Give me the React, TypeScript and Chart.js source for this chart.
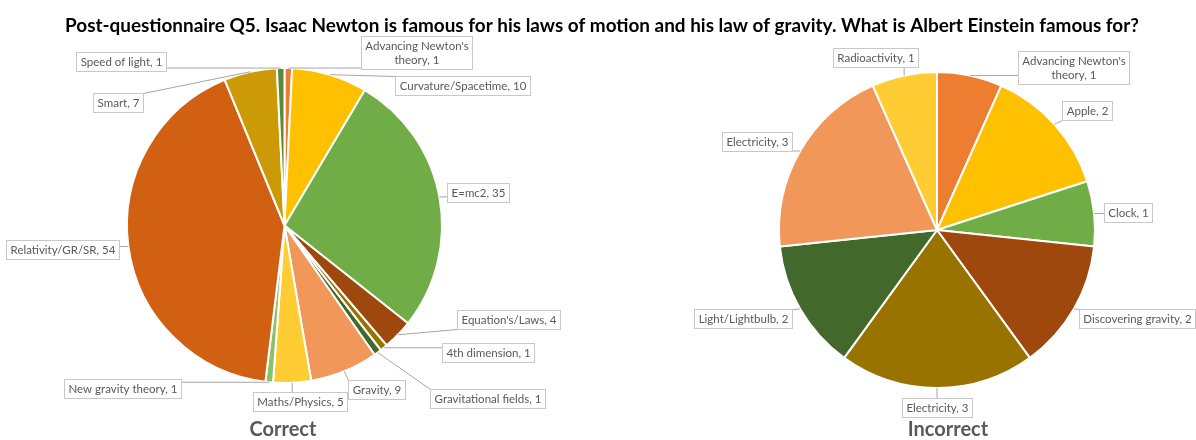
import React, { useEffect, useRef } from "react";
import { Chart, registerables } from "chart.js";

Chart.register(...registerables);

const TITLE =
  "Post-questionnaire Q5. Isaac Newton is famous for his laws of motion and his law of gravity. What is Albert Einstein famous for?";

const correctCategories = [
  "Advancing Newton's theory",
  "Curvature/Spacetime",
  "E=mc2",
  "Equation's/Laws",
  "4th dimension",
  "Gravitational fields",
  "Gravity",
  "Maths/Physics",
  "New gravity theory",
  "Relativity/GR/SR",
  "Smart",
  "Speed of light",
];
const correctValues = [1, 10, 35, 4, 1, 1, 9, 5, 1, 54, 7, 1];

const incorrectCategories = [
  "Advancing Newton's theory",
  "Apple",
  "Clock",
  "Discovering gravity",
  "Electricity",
  "Light/Lightbulb",
  "Electricity",
  "Radioactivity",
];
const incorrectValues = [1, 2, 1, 2, 3, 2, 3, 1];

const PALETTE = [
  "#ED7D31",
  "#FFC000",
  "#70AD47",
  "#9E480E",
  "#997300",
  "#43682B",
  "#F1975A",
  "#FFCD33",
  "#8CC168",
  "#D26012",
  "#CC9A06",
  "#5A8A39",
];

const FONT = "Lato, 'Open Sans', sans-serif";

// label box centre offsets from the pie centre (layout only)
const correctLabelOffsets = [
  [132, -173],
  [177.5, -140],
  [193.5, -33.5],
  [224, 94],
  [203, 126.5],
  [202.5, 173],
  [92, 164],
  [15, 175.5],
  [-162, 163],
  [-222, 23.5],
  [-167, -123.5],
  [-163.5, -164],
];
const incorrectLabelOffsets = [
  [136.5, -163],
  [149.5, -120],
  [190.5, -18],
  [200, 88.5],
  [0, 177],
  [-194.5, 88.5],
  [-180, -88.5],
  [-62, -173],
];

function splitTwo(text: string): string[] {
  const parts = text.split(" ");
  if (parts.length < 3) return [text];
  return [parts.slice(0, parts.length - 2).join(" "), parts.slice(parts.length - 2).join(" ")];
}

const calloutPlugin = {
  id: "callouts",
  afterDatasetsDraw(chart: any, _args: any, opts: any) {
    const ctx = chart.ctx as CanvasRenderingContext2D;
    const meta = chart.getDatasetMeta(0);
    const labels = chart.data.labels as string[];
    const values = chart.data.datasets[0].data as number[];
    ctx.save();
    const fs = opts.fontSize || 12;
    ctx.font = `${fs}px ${FONT}`;
    const lineH = opts.lineHeight || 14;
    const padX = opts.padX || 4;
    const padY = opts.padY || 2.5;
    meta.data.forEach((arc: any, i: number) => {
      const p = arc.getProps(["x", "y", "startAngle", "endAngle", "outerRadius"], true);
      const mid = (p.startAngle + p.endAngle) / 2;
      const ax = p.x + Math.cos(mid) * p.outerRadius;
      const ay = p.y + Math.sin(mid) * p.outerRadius;
      const text = `${labels[i]}, ${values[i]}`;
      const lines = (opts.wrap || []).includes(i) ? splitTwo(text) : [text];
      const tw = Math.max(...lines.map((l: string) => ctx.measureText(l).width));
      const w = Math.round(tw + padX * 2);
      const h = Math.round(lines.length * lineH + padY * 2);
      const off = opts.offsets[i];
      const cx = p.x + off[0];
      const cy = p.y + off[1];
      const left = Math.round(cx - w / 2) + 0.5;
      const top = Math.round(cy - h / 2) + 0.5;
      const lx = Math.min(Math.max(ax, left), left + w);
      const ly = Math.min(Math.max(ay, top), top + h);
      ctx.strokeStyle = "#A6A6A6";
      ctx.lineWidth = 1;
      ctx.beginPath();
      ctx.moveTo(ax, ay);
      ctx.lineTo(lx, ly);
      ctx.stroke();
      ctx.fillStyle = "#FFFFFF";
      ctx.fillRect(left, top, w, h);
      ctx.strokeStyle = "#C8C8C8";
      ctx.strokeRect(left, top, w, h);
      ctx.fillStyle = "#595959";
      ctx.textAlign = "center";
      ctx.textBaseline = "middle";
      lines.forEach((l: string, k: number) => {
        ctx.fillText(l, left + w / 2, top + padY + lineH * k + lineH / 2 + 0.5);
      });
    });

    // subtitle
    if (opts.subtitle) {
      ctx.font = `bold ${opts.subtitle.size}px ${FONT}`;
      ctx.fillStyle = "#595959";
      ctx.textAlign = "center";
      ctx.textBaseline = "alphabetic";
      ctx.fillText(opts.subtitle.text, opts.subtitle.x, opts.subtitle.y);
    }
    // main title
    if (opts.title) {
      const base = 19;
      ctx.font = `bold ${base}px ${FONT}`;
      const m = ctx.measureText(opts.title.text).width;
      const size = (base * opts.title.width) / m;
      ctx.font = `bold ${size}px ${FONT}`;
      ctx.fillStyle = "#000000";
      ctx.textAlign = "center";
      ctx.textBaseline = "alphabetic";
      ctx.fillText(opts.title.text, opts.title.x, opts.title.y);
    }
    ctx.restore();
  },
};

function makeConfig(
  labels: string[],
  values: number[],
  padding: any,
  callouts: any
): any {
  return {
    type: "pie",
    data: {
      labels,
      datasets: [
        {
          data: values,
          backgroundColor: values.map((_, i) => PALETTE[i % PALETTE.length]),
          borderColor: "#FFFFFF",
          borderWidth: 2,
          hoverOffset: 0,
          offset: 0,
        },
      ],
    },
    options: {
      responsive: false,
      animation: false,
      devicePixelRatio: 1,
      events: [],
      layout: { padding },
      plugins: {
        legend: { display: false },
        tooltip: { enabled: false },
        title: { display: false },
        callouts,
      },
    },
    plugins: [calloutPlugin],
  };
}

export default function App() {
  const leftRef = useRef<HTMLCanvasElement>(null);
  const rightRef = useRef<HTMLCanvasElement>(null);

  useEffect(() => {
    document.body.style.margin = "0";
    const left = new Chart(
      leftRef.current!,
      makeConfig(
        correctCategories,
        correctValues,
        { left: 126, right: 753, top: 67, bottom: 56 },
        {
          offsets: correctLabelOffsets,
          wrap: [0],
          fontSize: 11.5,
          subtitle: { text: "Correct", x: 283, y: 436, size: 20 },
          title: { text: TITLE, x: 602, y: 32, width: 1075 },
        }
      )
    );
    const right = new Chart(
      rightRef.current!,
      makeConfig(
        incorrectCategories,
        incorrectValues,
        { left: 778, right: 100, top: 71, bottom: 51 },
        {
          offsets: incorrectLabelOffsets,
          wrap: [0],
          fontSize: 11.5,
          subtitle: { text: "Incorrect", x: 948, y: 436, size: 20 },
        }
      )
    );
    return () => {
      left.destroy();
      right.destroy();
    };
  }, []);

  const style: React.CSSProperties = { position: "absolute", left: 0, top: 0 };
  return (
    <div style={{ position: "relative", width: 1196, height: 440 }}>
      <canvas ref={leftRef} width={1196} height={440} style={style} />
      <canvas ref={rightRef} width={1196} height={440} style={style} />
    </div>
  );
}
